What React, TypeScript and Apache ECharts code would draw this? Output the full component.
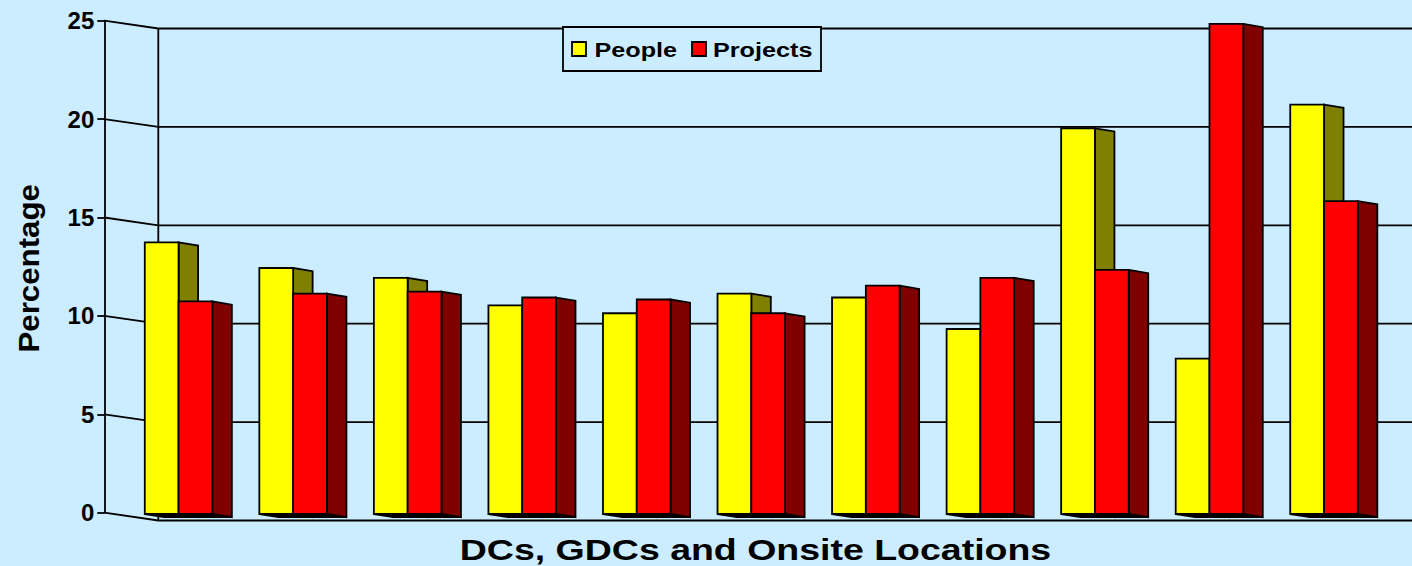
import { useEffect, useRef } from 'react';
import * as echarts from 'echarts';

// Locations along the category axis (not labelled on the chart)
const LOCATIONS = ['L1', 'L2', 'L3', 'L4', 'L5', 'L6', 'L7', 'L8', 'L9', 'L10', 'L11'];
// Percentage of people and of projects per location
const PEOPLE = [13.8, 12.5, 12.0, 10.6, 10.2, 11.2, 11.0, 9.4, 19.6, 7.9, 20.8];
const PROJECTS = [10.8, 11.2, 11.3, 11.0, 10.9, 10.2, 11.6, 12.0, 12.4, 24.9, 15.9];
// Value-axis ticks
const Y_TICKS = [0, 5, 10, 15, 20, 25];
const Y_MAX = 25;
const Y_STEP = 5;

const SERIES_NAMES = ['People', 'Projects'];
const FACE_COLORS = ['#FFFF00', '#FF0000'];
const SIDE_COLORS = ['#808000', '#800000'];

const BG = '#CCECFF';
const FONT = '"Liberation Sans", Arial, sans-serif';

// Pseudo-3D geometry
const WALL_DX = 54;
const WALL_DY = 7.8;
const AXIS_OFFSET = 17;
const BAR_RATIO = 33.8 / 114.6;
const SIDE_DX = 19.5;
const SIDE_DY = 3.2;
const BAR_DY = 1.3;
const LINE_W = 1.8;

function wallRenderer(params: any, api: any) {
  const v = api.value(1);
  const y = api.coord([0, v])[1];
  const cs = params.coordSys;
  const fx = cs.x - AXIS_OFFSET;
  const bx = fx + WALL_DX;
  const style = { stroke: '#000', lineWidth: LINE_W, fill: null };
  const children: any[] = [
    { type: 'line', shape: { x1: fx, y1: y, x2: bx, y2: y + WALL_DY }, style },
    { type: 'line', shape: { x1: bx, y1: y + WALL_DY, x2: api.getWidth(), y2: y + WALL_DY }, style },
  ];
  if (params.dataIndex === 0) {
    const yTop = api.coord([0, Y_MAX])[1];
    children.push({
      type: 'line',
      shape: { x1: bx, y1: yTop + WALL_DY, x2: bx, y2: y + WALL_DY },
      style,
    });
  }
  return { type: 'group', children };
}

function barRenderer(seriesIdx: number) {
  return (params: any, api: any) => {
    const i = api.value(0);
    const v = api.value(1);
    const [cx, yTop0] = api.coord([i, v]);
    const yBase0 = api.coord([i, 0])[1];
    const bw = api.size([1, 0])[0] * BAR_RATIO;
    const x0 = cx - bw + seriesIdx * bw;
    const x1 = x0 + bw;
    const yt = yTop0 + BAR_DY;
    const yb = yBase0 + BAR_DY;
    const edge = { stroke: '#000', lineWidth: LINE_W, lineJoin: 'miter' };
    return {
      type: 'group',
      children: [
        {
          type: 'polygon',
          shape: { points: [[x0, yb], [x1, yb], [x1 + SIDE_DX, yb + SIDE_DY], [x0 + SIDE_DX, yb + SIDE_DY]] },
          style: { fill: '#000', ...edge },
        },
        {
          type: 'polygon',
          shape: { points: [[x1, yt], [x1 + SIDE_DX, yt + SIDE_DY], [x1 + SIDE_DX, yb + SIDE_DY], [x1, yb]] },
          style: { fill: SIDE_COLORS[seriesIdx], ...edge },
        },
        {
          type: 'rect',
          shape: { x: x0, y: yt, width: bw, height: yb - yt },
          style: { fill: FACE_COLORS[seriesIdx], ...edge },
        },
      ],
    };
  };
}

function textEl(text: string, x: number, y: number, size: number, align: string, scaleX: number, rotation = 0) {
  return {
    type: 'text',
    x,
    y,
    scaleX,
    rotation,
    z: 100,
    style: {
      text,
      fill: '#000',
      fontSize: size,
      fontWeight: 'bold',
      fontFamily: FONT,
      align,
      textAlign: align,
      verticalAlign: 'middle',
      textVerticalAlign: 'middle',
    },
  };
}

export default function App() {
  const ref = useRef<HTMLDivElement>(null);

  useEffect(() => {
    if (!ref.current) return;
    const chart = echarts.init(ref.current, undefined, { renderer: 'svg' });
    const seriesData = [PEOPLE, PROJECTS];

    chart.setOption({
      animation: false,
      backgroundColor: BG,
      grid: { left: 121.3, right: 30.7, top: 20.7, bottom: 53.3 },
      xAxis: {
        type: 'category',
        data: LOCATIONS,
        boundaryGap: true,
        show: false,
      },
      yAxis: {
        type: 'value',
        min: 0,
        max: Y_MAX,
        interval: Y_STEP,
        offset: AXIS_OFFSET,
        axisLine: { show: true, lineStyle: { color: '#000', width: LINE_W } },
        axisTick: { show: true, length: 7, lineStyle: { color: '#000', width: LINE_W } },
        axisLabel: {
          color: '#000',
          fontSize: 24,
          fontWeight: 'bold',
          fontFamily: FONT,
          margin: 10,
        },
        splitLine: { show: false },
      },
      series: [
        {
          type: 'custom',
          name: 'walls',
          silent: true,
          renderItem: wallRenderer,
          data: Y_TICKS.map((v) => [0, v]),
          encode: { x: 0, y: 1 },
          z: 1,
        },
        ...seriesData.map((vals, s) => ({
          type: 'custom',
          name: SERIES_NAMES[s],
          renderItem: barRenderer(s),
          data: vals.map((v, i) => [i, v]),
          encode: { x: 0, y: 1 },
          z: 2 + s,
        })),
      ],
      graphic: [
        {
          type: 'rect',
          z: 100,
          shape: { x: 563, y: 27, width: 258, height: 44 },
          style: { fill: BG, stroke: '#000', lineWidth: LINE_W },
        },
        {
          type: 'rect',
          z: 100,
          shape: { x: 572, y: 42, width: 14, height: 14 },
          style: { fill: FACE_COLORS[0], stroke: '#000', lineWidth: LINE_W },
        },
        {
          type: 'rect',
          z: 100,
          shape: { x: 692, y: 42, width: 14, height: 14 },
          style: { fill: FACE_COLORS[1], stroke: '#000', lineWidth: LINE_W },
        },
        textEl(SERIES_NAMES[0], 594.5, 50, 21, 'left', 1.2),
        textEl(SERIES_NAMES[1], 713, 50, 21, 'left', 1.2),
        textEl('DCs, GDCs and Onsite Locations', 755.5, 549.3, 30, 'center', 1.25),
        textEl('Percentage', 28.8, 268.3, 29.5, 'center', 1.06, Math.PI / 2),
      ],
    });

    return () => chart.dispose();
  }, []);

  return (
    <div
      ref={ref}
      style={{ position: 'fixed', left: 0, top: 0, width: 1412, height: 566 }}
    />
  );
}
